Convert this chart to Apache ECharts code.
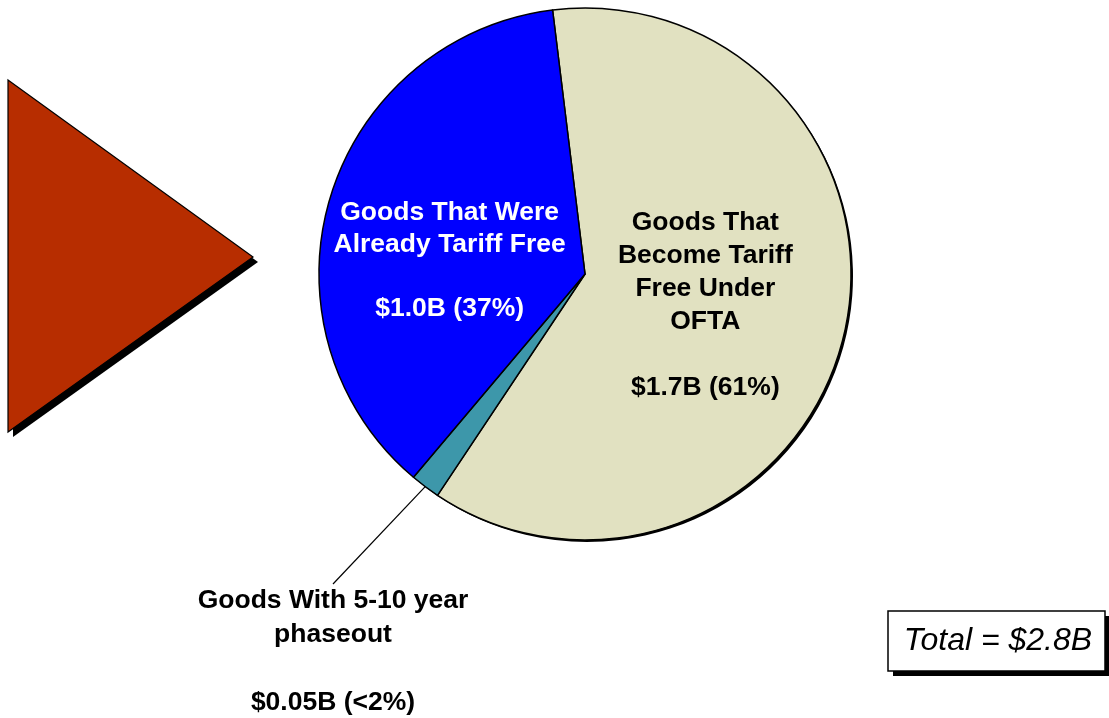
<!DOCTYPE html>
<html>
<head>
<meta charset="utf-8">
<script src="https://cdn.jsdelivr.net/npm/echarts@6/dist/echarts.min.js"></script>
<style>
  html, body { margin: 0; padding: 0; background: #fff; }
  #chart { width: 1109px; height: 718px; }
</style>
</head>
<body>
<div id="chart"></div>
<script>
// ---- data ----
const sliceNames = [
  'Goods That Become Tariff Free Under OFTA',
  'Goods With 5-10 year phaseout',
  'Goods That Were Already Tariff Free'
];
const sliceValues = [61.3, 1.8, 36.9];   // share of $2.8B, in percent
const sliceLabels = [
  'Goods That\nBecome Tariff\nFree Under\nOFTA\n\n$1.7B (61%)',
  'Goods With 5-10 year\nphaseout\n\n$0.05B (<2%)',
  'Goods That Were\nAlready Tariff Free\n\n$1.0B (37%)'
];
const totalText = 'Total = $2.8B';

// ---- styles ----
const FONT = '"Liberation Sans", Arial, Helvetica, sans-serif';
const sliceColors = ['#E1E1C1', '#3D97AA', '#0000FF'];
const labelStyles = [
  { color: '#000', lineHeight: 33, position: 'inside' },
  { color: '#000', lineHeight: 34, position: 'outside' },
  { color: '#fff', lineHeight: 32, position: 'inside' }
];
const PIE_CENTER = [585, 274];
const PIE_R = 266;
const TRI = [[8, 80], [253, 257], [8, 432]];
const SH = 5;

const mainData = sliceValues.map((v, i) => ({
  name: sliceNames[i],
  value: v,
  itemStyle: { color: sliceColors[i] },
  label: {
    show: true,
    position: labelStyles[i].position,
    formatter: sliceLabels[i],
    color: labelStyles[i].color,
    lineHeight: labelStyles[i].lineHeight,
    align: 'center'
  },
  labelLine: { show: i === 1 }
}));

const shadowData = sliceValues.map((v, i) => ({ name: sliceNames[i], value: v }));

const chart = echarts.init(document.getElementById('chart'), null, { renderer: 'canvas' });
chart.setOption({
  animation: false,
  backgroundColor: '#fff',
  series: [
    {
      type: 'pie',
      silent: true,
      center: [PIE_CENTER[0] + 2, PIE_CENTER[1] + 2],
      radius: PIE_R,
      startAngle: 97,
      clockwise: true,
      label: { show: false },
      labelLine: { show: false },
      itemStyle: { color: '#000', borderWidth: 0 },
      data: shadowData
    },
    {
      type: 'pie',
      center: PIE_CENTER,
      radius: PIE_R,
      startAngle: 97,
      clockwise: true,
      avoidLabelOverlap: false,
      itemStyle: { borderColor: '#000', borderWidth: 1.5 },
      label: {
        fontFamily: FONT,
        fontWeight: 'bold',
        fontSize: 26.5
      },
      labelLine: {
        length: 40,
        length2: 0,
        lineStyle: { color: '#000', width: 1.2 }
      },
      labelLayout: function (params) {
        if (params.dataIndex === 0) return { dx: -12, dy: 0 };
        if (params.dataIndex === 2) return { dx: -5, dy: 25 };
        return { x: 333, y: 584, align: 'center', verticalAlign: 'top' };
      },
      emphasis: { disabled: true },
      data: mainData
    }
  ],
  graphic: [
    {
      type: 'polygon',
      z: 1,
      shape: { points: TRI.map(p => [p[0] + SH, p[1] + SH]) },
      style: { fill: '#000' }
    },
    {
      type: 'polygon',
      z: 2,
      shape: { points: TRI },
      style: { fill: '#B72D00', stroke: '#000', lineWidth: 1.2 }
    },
    {
      type: 'rect',
      z: 1,
      shape: { x: 888 + SH, y: 611 + SH, width: 217, height: 60 },
      style: { fill: '#000' }
    },
    {
      type: 'rect',
      z: 2,
      shape: { x: 888, y: 611, width: 217, height: 60 },
      style: { fill: '#fff', stroke: '#000', lineWidth: 1.5 }
    },
    {
      type: 'text',
      z: 3,
      x: 998, y: 641,
      style: {
        text: totalText,
        fontFamily: FONT, fontStyle: 'italic', fontSize: 32,
        fill: '#000', textAlign: 'center', textVerticalAlign: 'middle'
      }
    }
  ]
});
</script>
</body>
</html>
